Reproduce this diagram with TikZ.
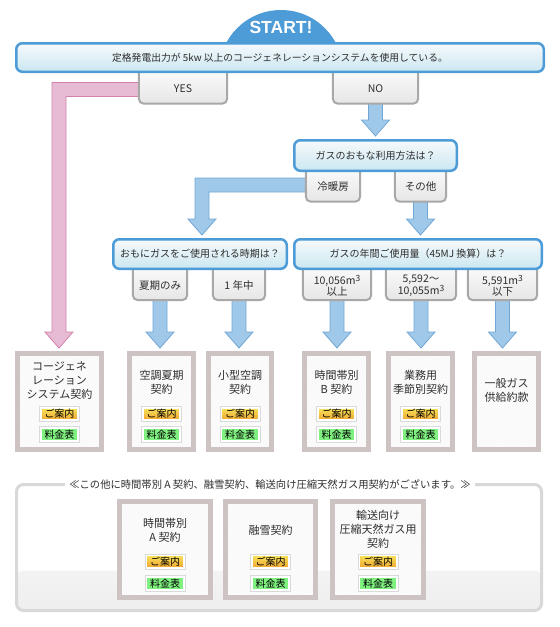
\documentclass[tikz,border=0pt]{standalone}
\usepackage{fontspec}
\setmainfont{Noto Sans CJK JP}
\newfontfamily\startfont{Liberation Sans}
\usetikzlibrary{calc,patterns}

\definecolor{qblue}{RGB}{77,155,215}
\definecolor{qtop}{RGB}{246,250,252}
\definecolor{qbottom}{RGB}{203,231,241}
\definecolor{tabrim}{RGB}{168,168,168}
\definecolor{tabbottom}{RGB}{230,230,230}
\definecolor{arrowfill}{RGB}{160,200,232}
\definecolor{arrowrim}{RGB}{112,166,214}
\definecolor{pinkfill}{RGB}{232,187,213}
\definecolor{pinkrim}{RGB}{211,128,172}
\definecolor{planrim}{RGB}{206,195,195}
\definecolor{hatch}{RGB}{242,242,242}
\definecolor{guidetop}{RGB}{246,226,90}
\definecolor{guidebottom}{RGB}{240,166,48}
\definecolor{ratefill}{RGB}{128,240,128}
\definecolor{btnrim}{RGB}{218,218,218}
\definecolor{panelrim}{RGB}{216,216,216}
\definecolor{panelbottom}{RGB}{238,238,238}
\definecolor{inkgray}{RGB}{45,45,45}

\pgfdeclarelayer{arrowlayer}
\pgfdeclarelayer{tablayer}
\pgfsetlayers{arrowlayer,tablayer,main}

\newcommand{\cubic}{\raisebox{3.2pt}{\fontsize{8.5pt}{8.5pt}\selectfont 3}}

\tikzset{
  qbox/.style={draw=qblue, line width=2.5pt, rounded corners=6pt,
    top color=qtop, bottom color=qbottom, inner sep=0pt,
    font=\fontsize{10pt}{13pt}\selectfont},
  tabtext/.style={inner sep=0pt, align=center,
    font=\fontsize{10.5pt}{11pt}\selectfont},
  tabframe/.style={draw=tabrim, line width=2pt, rounded corners=5pt,
    top color=white, bottom color=tabbottom},
  planbox/.style={draw=planrim, line width=5pt, preaction={fill=white},
    pattern=north east lines, pattern color=hatch, minimum height=96pt},
  plantext/.style={align=center, inner sep=0pt,
    font=\fontsize{11pt}{14pt}\selectfont},
  button/.style={minimum width=37.4pt, inner sep=0pt, draw=white,
    line width=1.6pt, preaction={draw=btnrim, line width=3.6pt},
    text=black, font=\fontsize{10pt}{10pt}\selectfont},
  guide/.style={button, minimum height=12.4pt,
    top color=guidetop, bottom color=guidebottom},
  rate/.style={button, minimum height=13.4pt, fill=ratefill},
  fatblue/.style={fill=arrowfill, draw=arrowrim, line width=0.8pt},
  fatpink/.style={fill=pinkfill, draw=pinkrim, line width=0.8pt},
  panelbox/.style={draw=panelrim, line width=3pt, rounded corners=7pt,
    fill=white, path picture={\shade[top color=white, bottom color=panelbottom]
      ($(path picture bounding box.south west)+(0,-40)$)
      rectangle (path picture bounding box.south east);}}
}

% block arrow straight down
\newcommand{\fatdown}[3]{%
  \path[#1] let \p1=(#2.south), \p2=(#3.north) in
    (\x1-7pt,\y1+6pt) -- (\x1+7pt,\y1+6pt) -- (\x1+7pt,\y2+19pt)
    -- (\x1+14pt,\y2+19pt) -- (\x1,\y2+3pt) -- (\x1-14pt,\y2+19pt)
    -- (\x1-7pt,\y2+19pt) -- cycle;}

% block arrow left, then down
\newcommand{\fatbend}[4]{%
  \path[#1] let \p1=(#2.west), \p2=(#4.north), \p3=(#3) in
    (\x1+10pt,\y3+7pt) -- (\x3-7pt,\y3+7pt) -- (\x3-7pt,\y2+19pt)
    -- (\x3-14pt,\y2+19pt) -- (\x3,\y2+3pt) -- (\x3+14pt,\y2+19pt)
    -- (\x3+7pt,\y2+19pt) -- (\x3+7pt,\y3-7pt) -- (\x1+10pt,\y3-7pt) -- cycle;}

\begin{document}
\begin{tikzpicture}[x=1pt,y=-1pt,every node/.append style={text=inkgray}]
\useasboundingbox (0,0) rectangle (560,627);

% start
\begin{scope}
  \clip (0,0) rectangle (560,50);
  \fill[qblue] (281,72) circle[radius=62pt];
\end{scope}
\node[text=white, font=\startfont\bfseries\fontsize{17.5pt}{18pt}\selectfont]
  (start) at (281,27) {START!};

% questions
\node[qbox, minimum width=527.5pt, minimum height=28.5pt,
  font=\fontsize{9.8pt}{12pt}\selectfont] (ask) at (280,57.5)
  {定格発電出力が 5kw 以上のコージェネレーションシステムを使用している。};
\node[qbox, minimum width=162.5pt, minimum height=30.5pt] (use)
  at (375.5,155.5) {ガスのおもな利用方法は？};
\node[qbox, minimum width=173.5pt, minimum height=29.5pt] (season)
  at (200,254) {おもにガスをご使用される時期は？};
\node[qbox, minimum width=247.5pt, minimum height=29.5pt] (volume)
  at (418,254) {ガスの年間ご使用量（45MJ 換算）は？};

% answer tabs
\foreach \n/\x/\y/\w/\t in {
  yes/183/89/88/YES,
  no/375.5/89/85/NO,
  cool/333/187/54/冷暖房,
  other/420.5/187/51/その他,
  summer/160/285.5/54/夏期のみ,
  allyear/239/285.5/52/1 年中,
  large/337/285.5/68/{10,056m\cubic\\以上},
  middle/421/285.5/70/{5,592〜\\10,055m\cubic},
  little/502.5/285.5/69/{5,591m\cubic\\以下}}
  \node[tabtext, minimum width=\w pt, minimum height=29pt] (\n) at (\x,\y) {\t};

\begin{pgfonlayer}{tablayer}
\foreach \n in {yes,no,cool,other,summer,allyear,large,middle,little}
  \draw[tabframe] ($(\n.north west)+(0,-12)$) rectangle (\n.south east);
\end{pgfonlayer}

% contracts
\foreach \n/\x/\w/\t/\ty/\b in {
  cogen/59.5/84/{コージェネ\\レーション\\システム契約}/381/1,
  aircon/161.5/64/{空調夏期\\契約}/382/1,
  smallac/240/63/{小型空調\\契約}/382/1,
  timeb/336.5/64/{時間帯別\\B 契約}/382/1,
  seasonal/420.5/64/{業務用\\季節別契約}/382/1,
  general/506.5/64/{一般ガス\\供給約款}/390/0}
{
  \node[planbox, minimum width=\w pt] (\n) at (\x,401.5) {};
  \node[plantext] (\n-t) at (\x,\ty) {\t};
  \ifnum\b=1
    \node[guide] (\n-g) at (\x,414) {ご案内};
    \node[rate] (\n-r) at (\x,434.5) {料金表};
  \fi
}

\coordinate (turnyes) at (59,89.5);
\coordinate (turncool) at (202,185);

\begin{pgfonlayer}{arrowlayer}
\fatbend{fatpink}{yes}{turnyes}{cogen}
\fatdown{fatblue}{no}{use}
\fatbend{fatblue}{cool}{turncool}{season}
\fatdown{fatblue}{other}{volume}
\fatdown{fatblue}{summer}{aircon}
\fatdown{fatblue}{allyear}{smallac}
\fatdown{fatblue}{large}{timeb}
\fatdown{fatblue}{middle}{seasonal}
\fatdown{fatblue}{little}{general}
\end{pgfonlayer}

% other contracts
\node[panelbox, minimum width=525pt, minimum height=126pt] (panel) at (279,547.5) {};
\node[fill=white, inner xsep=4pt, inner ysep=1pt,
  font=\fontsize{10.3pt}{12pt}\selectfont] (note) at (270,484)
  {≪この他に時間帯別 A 契約、融雪契約、輸送向け圧縮天然ガス用契約がございます。≫};

\foreach \n/\x/\w/\t/\ty in {
  timea/165/91/{時間帯別\\A 契約}/530,
  snow/270.5/90/{融雪契約}/530,
  cng/378/91/{輸送向け\\圧縮天然ガス用\\契約}/529}
{
  \node[planbox, minimum width=\w pt] (\n) at (\x,549.5) {};
  \node[plantext] (\n-t) at (\x,\ty) {\t};
  \node[guide] (\n-g) at (\x,561.5) {ご案内};
  \node[rate] (\n-r) at (\x,583.5) {料金表};
}
\end{tikzpicture}
\end{document}
